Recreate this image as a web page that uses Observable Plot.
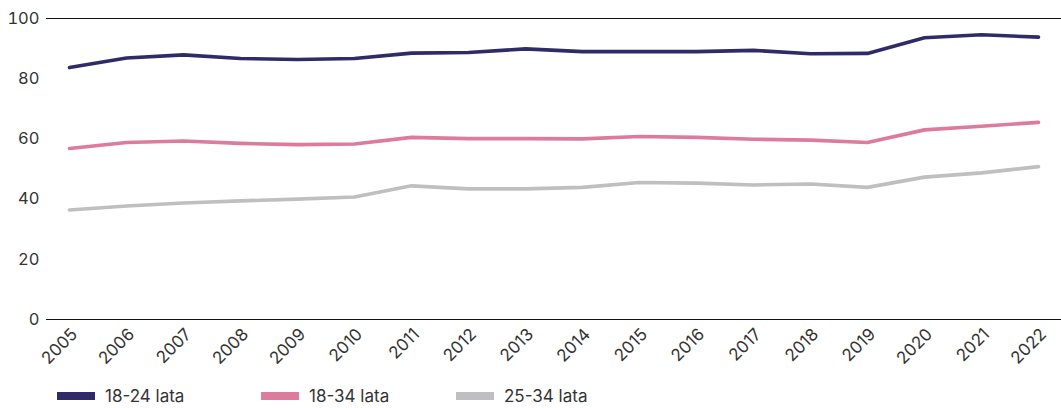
<!DOCTYPE html>
<html>
<head>
<meta charset="utf-8">
<script src="https://cdn.jsdelivr.net/npm/d3@7"></script>
<script src="https://cdn.jsdelivr.net/npm/@observablehq/plot@0.6"></script>
<style>
  html, body { margin: 0; padding: 0; background: #fff; }
  body { width: 1061px; height: 408px; overflow: hidden; font-family: Inter, "Noto Sans", sans-serif; color: #333; }
  #chart svg { display: block; }
  #legend { display: flex; align-items: center; height: 16px; line-height: 16px; margin-left: 57px; font-size: 17px; color: #333; }
  .item { display: flex; align-items: center; height: 16px; }
  .sw { width: 38px; height: 8px; margin-right: 10px; }
</style>
</head>
<body>
<div id="chart"></div>
<div id="legend"></div>
<script>
const years = [2005,2006,2007,2008,2009,2010,2011,2012,2013,2014,2015,2016,2017,2018,2019,2020,2021,2022];
const seriesNames = ["18-24 lata", "18-34 lata", "25-34 lata"];
const seriesColors = ["#2f2b69", "#dc7b9c", "#bfbfc2"];
const v1824 = [83.7,86.9,87.9,86.7,86.4,86.7,88.5,88.7,89.9,89.0,89.0,89.0,89.4,88.3,88.4,93.6,94.6,93.8];
const v1834 = [56.8,58.8,59.3,58.5,58.1,58.3,60.5,60.1,60.1,60.0,60.8,60.5,59.9,59.6,58.8,63.0,64.2,65.5];
const v2534 = [36.4,37.7,38.7,39.4,40.0,40.7,44.4,43.4,43.4,43.9,45.5,45.3,44.7,45.0,43.9,47.3,48.7,50.8];
const yTicks = [0,20,40,60,80,100];

const valuesBySeries = [v1824, v1834, v2534];
const data = [];
seriesNames.forEach((s, i) => years.forEach((y, j) => data.push({series: s, year: String(y), value: valuesBySeries[i][j]})));

const chart = Plot.plot({
  width: 1061,
  height: 388,
  marginLeft: 46,
  marginRight: 0,
  marginTop: 18,
  marginBottom: 69,
  style: {fontFamily: "Inter, 'Noto Sans', sans-serif", fontSize: "16px", color: "#333", background: "#fff"},
  x: {type: "point", domain: years.map(String), padding: 0.4, label: null},
  y: {domain: [0, 100], label: null},
  color: {domain: seriesNames, range: seriesColors},
  marks: [
    Plot.ruleY([0, 100], {stroke: "#111", strokeWidth: 1.2}),
    Plot.axisY({ticks: yTicks, tickSize: 0, tickPadding: 7, label: null, fontSize: 16.5}),
    Plot.axisX({tickSize: 0, tickRotate: -45, tickPadding: 12, dx: 5, label: null, fontSize: 17}),
    Plot.line(data, {x: "year", y: "value", z: "series", stroke: "series", strokeWidth: 3.6, curve: "linear"})
  ]
});
document.getElementById("chart").appendChild(chart);

const legend = document.getElementById("legend");
seriesNames.forEach((s, i) => {
  const it = document.createElement("div");
  it.className = "item";
  it.style.width = [204, 195, 200][i] + "px";
  const sw = document.createElement("div");
  sw.className = "sw";
  sw.style.background = seriesColors[i];
  const t = document.createElement("span");
  t.textContent = s;
  it.appendChild(sw); it.appendChild(t);
  legend.appendChild(it);
});
</script>
</body>
</html>
